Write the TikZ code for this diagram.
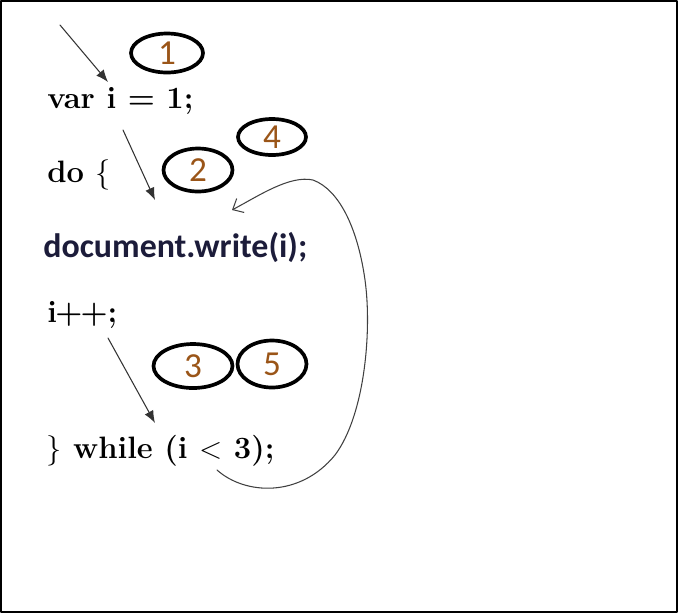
\documentclass[tikz,border=0pt]{standalone}
\usepackage{fontspec}
\newfontfamily\calib{Carlito}
\usetikzlibrary{arrows.meta,shapes.geometric}
\definecolor{codenavy}{HTML}{1C1C3A}
\definecolor{stepnum}{HTML}{9A5518}
\tikzstyle{every path}=[line cap=round,line join=round]
\tikzstyle{code}=[anchor=base west,inner sep=0pt,font=\fontsize{17.6}{20}\selectfont\bfseries]
\tikzstyle{codesans}=[anchor=base west,inner sep=0pt,text=codenavy,font=\calib\fontsize{19.3}{22}\selectfont\bfseries]
\tikzstyle{stepmark}=[ellipse,draw,line width=2.1pt,inner sep=0pt,text=stepnum,font=\calib\fontsize{20}{22}\selectfont]
\tikzstyle{flow}=[draw=black!80,line width=0.6pt,-{Latex[length=7pt,width=5.5pt]}]
\tikzstyle{loopback}=[draw=black!75,line width=0.6pt,-{Straight Barb[length=5pt,width=9pt]}]

\begin{document}
\begin{tikzpicture}[x=0.02cm,y=-0.02cm]
\useasboundingbox (0,0) rectangle (678,613);
\draw[line width=1.2pt] (1,1) rectangle (677,612);
%Code lines
	\node[code] (var) at (47,108) {var i = 1;};
	\node[code] (do) at (47,182) {do \textmd{$\{$}};
	\node[codesans] (write) at (43,257) {document.write(i);};
	\node[code] (inc) at (47,322) {i\kern-1pt+\kern-1pt+;};
	\node[code] (while) at (46,458) {\textmd{$\}$} while (i \textmd{$<$} 3);};
%Step numbers
	\node[stepmark,minimum width=1.44cm,minimum height=0.78cm] (s1) at (167,53) {1};
	\node[stepmark,minimum width=1.38cm,minimum height=0.86cm] (s2) at (198,170) {2};
	\node[stepmark,minimum width=1.58cm,minimum height=0.88cm] (s3) at (193,366) {3};
	\node[stepmark,minimum width=1.36cm,minimum height=0.72cm] (s4) at (272,137) {4};
	\node[stepmark,minimum width=1.38cm,minimum height=0.94cm] (s5) at (272,364) {5};
%Arrows
	\coordinate (a1) at (60,25);   \coordinate (b1) at (108,82);
	\coordinate (a2) at (123,130); \coordinate (b2) at (155,200);
	\coordinate (a3) at (108,338); \coordinate (b3) at (155,423);
	\draw[flow] (a1) -- (b1);
	\draw[flow] (a2) -- (b2);
	\draw[flow] (a3) -- (b3);
%Back to the loop body
	\coordinate (lp0) at (217,470);
	\coordinate (lp1) at (232,210);
	\draw[loopback] (lp0) .. controls (245,495) and (300,498) .. (335,455)
	 .. controls (365,415) and (372,330) .. (365,280)
	 .. controls (358,230) and (340,190) .. (313,180)
	 .. controls (290,175) and (260,195) .. (lp1);
\end{tikzpicture}
\end{document}
